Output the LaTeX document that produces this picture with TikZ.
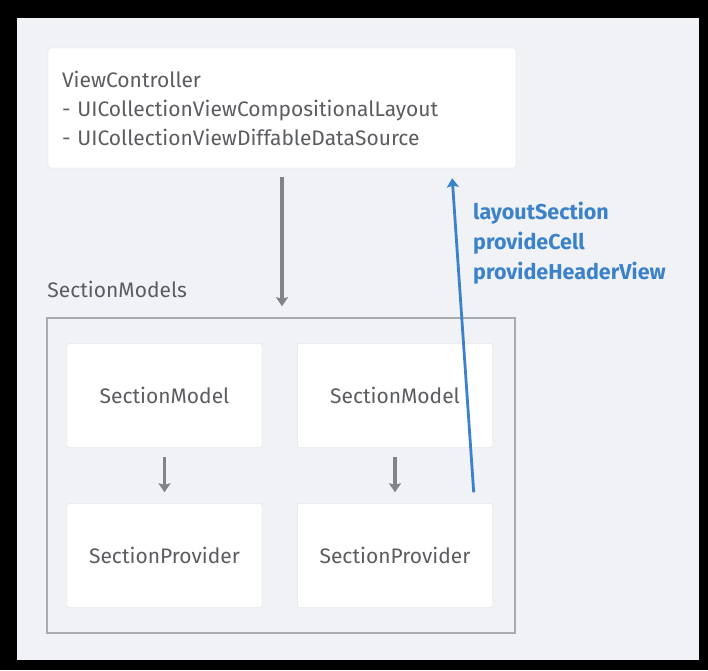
\documentclass[tikz,border=0pt]{standalone}
\usepackage{fontspec}
\setmainfont{Fira Sans}
\usetikzlibrary{positioning}
\usetikzlibrary{arrows.meta}

\definecolor{panelbg}{HTML}{F0F2F5}
\definecolor{boxline}{HTML}{D9DBDE}
\definecolor{frameline}{HTML}{A9ABAE}
\definecolor{textgray}{HTML}{5A5C5F}
\definecolor{arrowgray}{HTML}{808387}
\definecolor{callblue}{HTML}{3C82CA}

\begin{document}
\begin{tikzpicture}[x=1pt,y=1pt,>={Stealth[width=12pt,length=9pt,inset=1.5pt]},
	every node/.style={font=\fontsize{21}{29}\selectfont,text=textgray},
	box node/.style={draw=boxline,fill=white,rounded corners=2pt,
		minimum width=195pt,minimum height=104pt,inner sep=0pt},
	flow/.style={->,draw=arrowgray,line width=3.5pt},
	call/.style={->,draw=callblue,line width=2.8pt}]
	
	\useasboundingbox[fill=black] (0,0) rectangle (708,670);
	\fill[panelbg] (17,10) rectangle (699,652);
	
	\node[box node,minimum width=468pt,minimum height=120pt,text width=440pt,
		inner xsep=14pt,align=left] (vc) at (282,562)
		{ViewController\\- UICollectionViewCompositionalLayout\\- UICollectionViewDiffableDataSource};
	
	\node[draw=frameline,line width=1.5pt,minimum width=468pt,minimum height=315pt] (models) at (281,194.5) {};
	\node[anchor=west,inner sep=0pt] (modelslabel) at ([xshift=1pt,yshift=28pt]models.north west) {SectionModels};
	
	\node[box node] (sm1) at (164.5,274.5) {SectionModel};
	\node[box node] (sm2) [right of=sm1,node distance=230.5pt] {SectionModel};
	\node[box node] (sp1) [below of=sm1,node distance=160pt] {SectionProvider};
	\node[box node] (sp2) [below of=sm2,node distance=160pt] {SectionProvider};
	
	\draw[flow,shorten <=9pt,shorten >=11pt] (vc.south) -- (vc.south |- models.north);
	\draw[flow,shorten <=9pt,shorten >=11pt] (sm1) -- (sp1);
	\draw[flow,shorten <=9pt,shorten >=11pt] (sm2) -- (sp2);
	
	\draw[call] ([xshift=-19pt,yshift=11pt]sp2.north east) -- ([xshift=-64pt,yshift=-10pt]vc.south east);
	\node[anchor=west,align=left,inner sep=0pt,text=callblue,
		font=\bfseries\fontsize{21.5}{30}\selectfont] (calls) at (473,427)
		{layoutSection\\provideCell\\provideHeaderView};
\end{tikzpicture}
\end{document}
